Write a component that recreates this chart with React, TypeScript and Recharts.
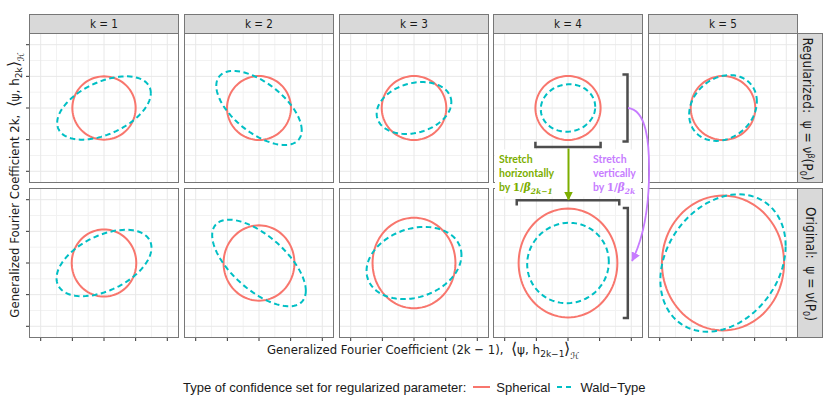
import React from 'react';
import { ScatterChart, Scatter, XAxis, YAxis, ReferenceLine } from 'recharts';

// facet labels
const kLabels = ['k = 1', 'k = 2', 'k = 3', 'k = 4', 'k = 5'];

// axis breaks (no tick labels are printed, only marks + grid)
const majorTicks = [-2, -1, 0, 1, 2];
const minorTicks = [-1.5, -0.5, 0.5, 1.5];
const axisLimit = 2.37;

// Spherical confidence set: half-width / half-height per k
const regSphereHalfW = [1.0, 1.01, 1.02, 1.03, 1.02];
const regSphereHalfH = [1.0, 1.01, 1.01, 1.01, 1.01];
const origSphereHalfW = [1.02, 1.12, 1.31, 1.56, 1.93];
const origSphereHalfH = [1.06, 1.19, 1.43, 1.72, 2.13];

// Wald-type confidence set: half-width, half-height, tilt (correlation)
const regWaldHalfW = [1.48, 1.35, 1.18, 0.86, 1.07];
const regWaldHalfH = [1.0, 1.17, 0.82, 0.75, 1.04];
const regWaldRho = [0.47, -0.6, 0.22, 0.05, 0.2];
const origWaldHalfW = [1.5, 1.48, 1.5, 1.29, 1.98];
const origWaldHalfH = [1.05, 1.37, 1.14, 1.27, 2.17];
const origWaldRho = [0.46, -0.64, 0.22, 0.03, 0.25];

// brackets in the k = 4 panels (row 0 = regularized, row 1 = original)
const bracketHalfW = [1.03, 1.62];
const bracketHalfH = [1.06, 1.74];
const bracketLevelY = [-1.23, 1.98];
const bracketLevelX = [1.88, 1.89];
const bracketTick = 0.16;

const RED = '#F8766D';
const CYAN = '#00BFC4';
const GREEN = '#7CAE00';
const PURPLE = '#C77CFF';
const BORDER = '#777777';
const NARROW = "'Liberation Sans Narrow', 'DejaVu Sans Condensed', 'Liberation Sans', sans-serif";

const PANEL = 150;
const TICK_SPACE = 4;
const colLefts = [29, 184, 339, 493, 648];
const rowTops = [33, 188];

const ellipsePoints = (hw: number, hh: number, rho: number) => {
  const s = Math.sqrt(1 - rho * rho);
  return Array.from({ length: 97 }, (_, i) => {
    const t = (i / 96) * Math.PI * 2;
    return { x: hw * Math.cos(t), y: hh * (rho * Math.cos(t) + s * Math.sin(t)) };
  });
};

const hBracket = (row: number) => {
  const w = bracketHalfW[row];
  const y0 = bracketLevelY[row];
  const dy = y0 < 0 ? bracketTick : -bracketTick;
  return [
    { x: -w, y: y0 + dy },
    { x: -w, y: y0 },
    { x: w, y: y0 },
    { x: w, y: y0 + dy },
  ];
};

const vBracket = (row: number) => {
  const h = bracketHalfH[row];
  const x0 = bracketLevelX[row];
  return [
    { x: x0 - bracketTick, y: h },
    { x: x0, y: h },
    { x: x0, y: -h },
    { x: x0 - bracketTick, y: -h },
  ];
};

const noDot = () => <g />;
const blank = () => '';

function FacetPanel({ row, col }: { row: number; col: number }) {
  const showX = row === 1;
  const showY = col === 0;
  const sphere =
    row === 0
      ? ellipsePoints(regSphereHalfW[col], regSphereHalfH[col], 0)
      : ellipsePoints(origSphereHalfW[col], origSphereHalfH[col], 0);
  const wald =
    row === 0
      ? ellipsePoints(regWaldHalfW[col], regWaldHalfH[col], regWaldRho[col])
      : ellipsePoints(origWaldHalfW[col], origWaldHalfH[col], origWaldRho[col]);

  return (
    <>
      <div
        style={{
          position: 'absolute',
          left: colLefts[col] - (showY ? TICK_SPACE : 0),
          top: rowTops[row],
        }}
      >
        <ScatterChart
          width={PANEL + (showY ? TICK_SPACE : 0)}
          height={PANEL + (showX ? TICK_SPACE : 0)}
          margin={{ top: 0, right: 0, bottom: 0, left: 0 }}
        >
          <XAxis
            type="number"
            dataKey="x"
            domain={[-axisLimit, axisLimit]}
            ticks={majorTicks}
            allowDataOverflow
            hide={!showX}
            height={TICK_SPACE}
            tickFormatter={blank}
            tickSize={3}
            tickLine={{ stroke: '#333' }}
            axisLine={false}
          />
          <YAxis
            type="number"
            dataKey="y"
            domain={[-axisLimit, axisLimit]}
            ticks={majorTicks}
            allowDataOverflow
            hide={!showY}
            width={TICK_SPACE}
            tickFormatter={blank}
            tickSize={3}
            tickLine={{ stroke: '#333' }}
            axisLine={false}
          />
          {minorTicks.map((v) => (
            <ReferenceLine key={`mvx-${v}`} x={v} stroke="#f2f2f2" strokeWidth={1} />
          ))}
          {minorTicks.map((v) => (
            <ReferenceLine key={`mhy-${v}`} y={v} stroke="#f2f2f2" strokeWidth={1} />
          ))}
          {majorTicks.map((v) => (
            <ReferenceLine key={`Mvx-${v}`} x={v} stroke="#e8e8e8" strokeWidth={1} />
          ))}
          {majorTicks.map((v) => (
            <ReferenceLine key={`Mhy-${v}`} y={v} stroke="#e8e8e8" strokeWidth={1} />
          ))}
          <Scatter
            data={sphere}
            fill={RED}
            line={{ stroke: RED, strokeWidth: 2 }}
            shape={noDot}
            isAnimationActive={false}
          />
          <Scatter
            data={wald}
            fill={CYAN}
            line={{ stroke: CYAN, strokeWidth: 2, strokeDasharray: '5.5 3.5' }}
            shape={noDot}
            isAnimationActive={false}
          />
          {col === 3 && (
            <Scatter
              data={hBracket(row)}
              fill="#4d4d4d"
              line={{ stroke: '#4d4d4d', strokeWidth: 2.5 }}
              shape={noDot}
              isAnimationActive={false}
            />
          )}
          {col === 3 && (
            <Scatter
              data={vBracket(row)}
              fill="#4d4d4d"
              line={{ stroke: '#4d4d4d', strokeWidth: 2.5 }}
              shape={noDot}
              isAnimationActive={false}
            />
          )}
        </ScatterChart>
      </div>
      <div
        style={{
          position: 'absolute',
          left: colLefts[col],
          top: rowTops[row],
          width: PANEL,
          height: PANEL,
          border: `1px solid ${BORDER}`,
          boxSizing: 'border-box',
          pointerEvents: 'none',
        }}
      />
    </>
  );
}

const AngleTerm = ({ sub }: { sub: string }) => (
  <span style={{ fontFamily: "'DejaVu Sans', sans-serif", fontSize: 12 }}>
    <span style={{ fontSize: 16, fontWeight: 300 }}>⟨</span>ψ, h
    <sub style={{ fontSize: 9, verticalAlign: -3 }}>{sub}</sub>
    <span style={{ fontSize: 16, fontWeight: 300 }}>⟩</span>
    <sub style={{ fontSize: 9, verticalAlign: -5, fontStyle: 'italic' }}>ℋ</sub>
  </span>
);

function Annotations() {
  const textStyle = { fontFamily: "Lato, 'Open Sans', sans-serif", fontWeight: 700, fontSize: 10.5 };
  const beta = (sub: string) => (
    <>
      <tspan fontFamily="'DejaVu Serif', serif" fontWeight={700}>1/</tspan>
      <tspan fontFamily="'DejaVu Serif', serif" fontStyle="italic" fontWeight={700}>β</tspan>
      <tspan fontFamily="'DejaVu Serif', serif" fontStyle="italic" fontWeight={700} fontSize={7.5} dy={3}>
        {sub}
      </tspan>
    </>
  );
  return (
    <svg
      width={830}
      height={415}
      style={{ position: 'absolute', left: 0, top: 0, pointerEvents: 'none' }}
    >
      <defs>
        <marker id="arrow-green" markerWidth="9" markerHeight="9" refX="8.5" refY="4.5" orient="auto" markerUnits="userSpaceOnUse">
          <path d="M0,0 L9,4.5 L0,9 z" fill={GREEN} />
        </marker>
        <marker id="arrow-purple" markerWidth="9" markerHeight="9" refX="8.5" refY="4.5" orient="auto" markerUnits="userSpaceOnUse">
          <path d="M0,0 L9,4.5 L0,9 z" fill={PURPLE} />
        </marker>
      </defs>
      <rect x={495} y={149.5} width={146} height={47} fill="#fff" />
      <line x1={568.5} y1={148.5} x2={568.5} y2={200} stroke={GREEN} strokeWidth={2} markerEnd="url(#arrow-green)" />
      <path
        d="M 628 108 C 646 110, 650 140, 649 180 C 648 215, 641 243, 632 261"
        fill="none"
        stroke={PURPLE}
        strokeWidth={1.8}
        markerEnd="url(#arrow-purple)"
      />
      <text x={499} y={163} fill={GREEN} style={textStyle}>Stretch</text>
      <text x={499} y={177} fill={GREEN} style={textStyle}>horizontally</text>
      <text x={499} y={191} fill={GREEN} style={textStyle}>
        by {beta('2k−1')}
      </text>
      <text x={593} y={163} fill={PURPLE} style={textStyle}>Stretch</text>
      <text x={593} y={177} fill={PURPLE} style={textStyle}>vertically</text>
      <text x={593} y={191} fill={PURPLE} style={textStyle}>
        by {beta('2k')}
      </text>
    </svg>
  );
}

export default function App() {
  const rows = [0, 1];
  const cols = [0, 1, 2, 3, 4];
  return (
    <div
      style={{
        position: 'absolute',
        left: 0,
        top: 0,
        width: 830,
        height: 415,
        background: '#fff',
        color: '#1a1a1a',
        fontFamily: NARROW,
        overflow: 'hidden',
      }}
    >
      {cols.map((c) => (
        <div
          key={`strip-${c}`}
          style={{
            position: 'absolute',
            left: colLefts[c],
            top: 14,
            width: PANEL,
            height: 20,
            background: '#d9d9d9',
            border: `1px solid ${BORDER}`,
            boxSizing: 'border-box',
            textAlign: 'center',
            lineHeight: '18px',
            fontSize: 11.6,
          }}
        >
          {kLabels[c]}
        </div>
      ))}

      {rows.map((r) =>
        cols.map((c) => <FacetPanel key={`panel-${r}-${c}`} row={r} col={c} />)
      )}

      {rows.map((r) => (
        <div
          key={`rstrip-${r}`}
          style={{
            position: 'absolute',
            left: 797,
            top: rowTops[r],
            width: 26,
            height: PANEL,
            background: '#d9d9d9',
            border: `1px solid ${BORDER}`,
            boxSizing: 'border-box',
          }}
        >
          <div
            style={{
              position: 'absolute',
              left: 13 - PANEL / 2,
              top: PANEL / 2 - 12,
              width: PANEL,
              height: 24,
              lineHeight: '24px',
              textAlign: 'center',
              transform: 'rotate(90deg)',
              fontSize: 13.5,
              whiteSpace: 'nowrap',
            }}
          >
            {r === 0 ? (
              <>
                Regularized:{'\u00a0\u00a0'}ψ = ν<sup style={{ fontSize: 9, verticalAlign: 5 }}>β</sup>(P
                <sub style={{ fontSize: 9, verticalAlign: -3 }}>0</sub>)
              </>
            ) : (
              <>
                Original:{'\u00a0\u00a0'}ψ = ν(P<sub style={{ fontSize: 9, verticalAlign: -3 }}>0</sub>)
              </>
            )}
          </div>
        </div>
      ))}

      {/* y axis title */}
      <div
        style={{
          position: 'absolute',
          left: 14 - 170,
          top: 185 - 11,
          width: 340,
          height: 22,
          lineHeight: '22px',
          textAlign: 'center',
          transform: 'rotate(-90deg)',
          fontSize: 13,
          whiteSpace: 'nowrap',
        }}
      >
        Generalized Fourier Coefficient 2k,{'\u00a0\u00a0'}
        <AngleTerm sub="2k" />
      </div>

      {/* x axis title */}
      <div
        style={{
          position: 'absolute',
          left: 267,
          top: 338,
          height: 22,
          lineHeight: '22px',
          fontSize: 13,
          whiteSpace: 'nowrap',
        }}
      >
        Generalized Fourier Coefficient (2k − 1),{'\u00a0\u00a0'}
        <AngleTerm sub="2k−1" />
      </div>

      <Annotations />

      {/* legend */}
      <div
        style={{
          position: 'absolute',
          left: 183,
          top: 378,
          height: 18,
          display: 'flex',
          alignItems: 'center',
          fontFamily: "'Liberation Sans', Arial, sans-serif",
          fontSize: 13,
          whiteSpace: 'nowrap',
        }}
      >
        <span>Type of confidence set for regularized parameter:</span>
        <svg width={17} height={10} style={{ marginLeft: 7, marginRight: 6 }}>
          <line x1={0} y1={5} x2={17} y2={5} stroke={RED} strokeWidth={2} />
        </svg>
        <span>Spherical</span>
        <svg width={17} height={10} style={{ marginLeft: 6, marginRight: 7 }}>
          <line x1={1} y1={5} x2={16} y2={5} stroke={CYAN} strokeWidth={2} strokeDasharray="5 4" />
        </svg>
        <span>Wald−Type</span>
      </div>
    </div>
  );
}
